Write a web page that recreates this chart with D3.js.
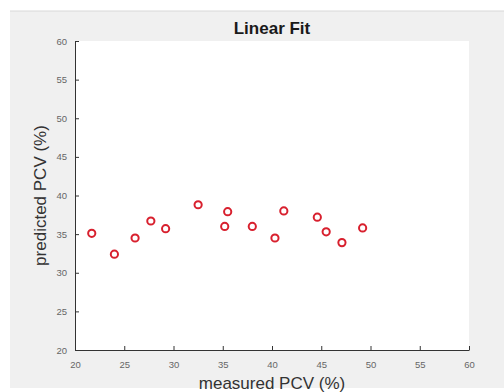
<!DOCTYPE html>
<html>
<head>
<meta charset="utf-8">
<script src="https://cdn.jsdelivr.net/npm/d3@7"></script>
<style>
    body { margin: 0; background: #fff; }
    text { font-family: "Liberation Sans", Arial, sans-serif; }
</style>
</head>
<body>
<div id="chart"></div>
<script>
// measured vs predicted PCV (%)
const measured = [21.7, 24.0, 26.1, 27.7, 29.2, 32.5, 35.2, 35.5, 38.0, 40.3, 41.2, 44.6, 45.5, 47.1, 49.2]
const predicted = [35.1, 32.4, 34.5, 36.7, 35.7, 38.8, 36.0, 37.9, 36.0, 34.5, 38.0, 37.2, 35.3, 33.9, 35.8]
const xTicks = [20, 25, 30, 35, 40, 45, 50, 55, 60]
const yTicks = [20, 25, 30, 35, 40, 45, 50, 55, 60]

const width = 504
const height = 392
const margin = { top: 41, right: 35, bottom: 42, left: 75 }

const svg = d3.select("#chart").append("svg")
    .attr("width", width)
    .attr("height", height)

// figure background
svg.append("rect")
    .attr("x", 10).attr("y", 11)
    .attr("width", width - 10).attr("height", 377)
    .attr("fill", "#f0f0f0")
svg.append("line")
    .attr("x1", 10).attr("x2", width)
    .attr("y1", 11).attr("y2", 11)
    .attr("stroke", "#d8d8d8")

const x = d3.scaleLinear().domain([20, 60]).range([margin.left, width - margin.right])
const y = d3.scaleLinear().domain([20, 60]).range([height - margin.bottom, margin.top])

svg.append("rect")
    .attr("x", x(20)).attr("y", y(60))
    .attr("width", x(60) - x(20)).attr("height", y(20) - y(60))
    .attr("fill", "#fff")

const xAxis = svg.append("g")
    .attr("transform", `translate(0,${y(20)})`)
    .call(d3.axisBottom(x).tickValues(xTicks).tickSizeInner(-4).tickSizeOuter(0).tickPadding(11))
const yAxis = svg.append("g")
    .attr("transform", `translate(${x(20)},0)`)
    .call(d3.axisLeft(y).tickValues(yTicks).tickSizeInner(-4).tickSizeOuter(0).tickPadding(8))

for (const ax of [xAxis, yAxis]) {
    ax.select(".domain").attr("stroke", "#333")
    ax.selectAll(".tick line").attr("stroke", "#333")
    ax.selectAll(".tick text")
        .attr("fill", "#666")
        .style("font-size", "9.5px")
}

svg.append("g").selectAll("circle")
    .data(measured.map((m, i) => [m, predicted[i]]))
    .enter().append("circle")
    .attr("cx", d => x(d[0]))
    .attr("cy", d => y(d[1]))
    .attr("r", 3.6)
    .attr("fill", "none")
    .attr("stroke", "#d8202e")
    .attr("stroke-width", 2)

svg.append("text")
    .attr("x", (x(20) + x(60)) / 2)
    .attr("y", 34)
    .attr("text-anchor", "middle")
    .style("font-size", "17px")
    .style("font-weight", "bold")
    .attr("fill", "#1a1a1a")
    .text("Linear Fit")

svg.append("text")
    .attr("x", (x(20) + x(60)) / 2)
    .attr("y", 389)
    .attr("text-anchor", "middle")
    .style("font-size", "17px")
    .attr("fill", "#333")
    .text("measured PCV (%)")

svg.append("text")
    .attr("transform", `translate(46,${(y(20) + y(60)) / 2}) rotate(-90)`)
    .attr("text-anchor", "middle")
    .style("font-size", "17px")
    .attr("fill", "#333")
    .text("predicted PCV (%)")
</script>
</body>
</html>
